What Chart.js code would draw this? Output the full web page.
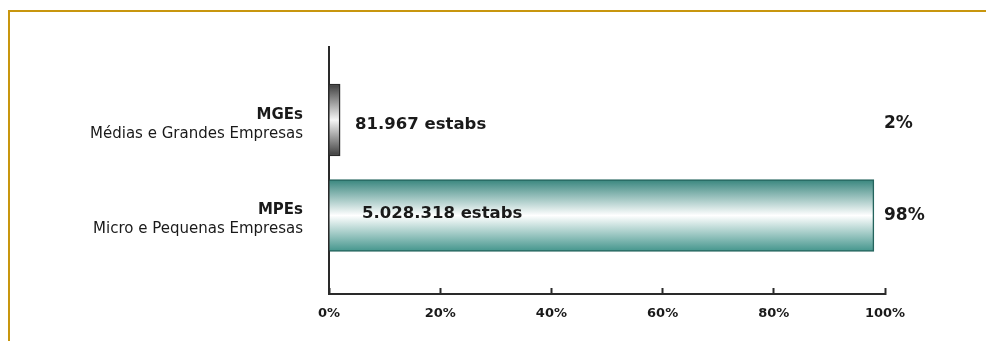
<!DOCTYPE html>
<html lang="pt-BR">
<head>
    <meta charset="UTF-8">
    <title>MPEs x MGEs</title>
    <script src="https://cdn.jsdelivr.net/npm/chart.js"></script>
    <style>
        html, body {
            margin: 0;
            padding: 0;
            background: #fff;
        }

        #frame {
            position: absolute;
            left: 8px;
            top: 10px;
            right: 0;
            bottom: 0;
            border-top: 2px solid #c8960e;
            border-left: 2px solid #c8960e;
        }

        #chart-box {
            position: absolute;
            left: 0;
            top: 0;
            width: 986px;
            height: 341px;
        }
    </style>
</head>
<body>
    <div id="frame"></div>
    <div id="chart-box">
        <canvas id="porte-chart"></canvas>
    </div>

    <script>
        // dados
        const siglas = ['MGEs', 'MPEs'];
        const nomes = ['Médias e Grandes Empresas', 'Micro e Pequenas Empresas'];
        const estabs = ['81.967 estabs', '5.028.318 estabs'];
        const percentuais = [2, 98];
        const posicoes = [1, 0];   // MGEs em cima, MPEs embaixo
        const xTicks = [0, 20, 40, 60, 80, 100];

        const fonte = '"DejaVu Sans", sans-serif';

        // gradiente vertical (borda escura, centro claro)
        function gradiente(ctx, i, cores) {
            const chart = ctx.chart;
            const y = chart.scales.y;
            if (!y || !chart.chartArea) return cores[0];
            const c = y.getPixelForValue(posicoes[i]);
            const g = chart.ctx.createLinearGradient(0, c - 36, 0, c + 36);
            g.addColorStop(0, cores[0]);
            g.addColorStop(0.5, cores[1]);
            g.addColorStop(1, cores[2]);
            return g;
        }

        // rótulos das categorias, valores e percentuais
        const rotulos = {
            id: 'rotulos',
            afterDatasetsDraw(chart) {
                const ctx = chart.ctx;
                const y = chart.scales.y;
                const x = chart.scales.x;
                ctx.save();
                ctx.fillStyle = '#1a1a1a';
                siglas.forEach((s, i) => {
                    const cy = y.getPixelForValue(posicoes[i]);
                    ctx.textAlign = 'right';
                    ctx.textBaseline = 'middle';
                    ctx.font = 'bold 15px ' + fonte;
                    ctx.fillText(s, 303, cy - 5);
                    ctx.font = '15px ' + fonte;
                    ctx.fillText(nomes[i], 303, cy + 14);

                    ctx.textAlign = 'left';
                    ctx.font = 'bold 16.5px ' + fonte;
                    const vx = i === 0 ? x.getPixelForValue(percentuais[i]) + 15 : x.getPixelForValue(0) + 33;
                    ctx.fillText(estabs[i], vx, cy + (i === 0 ? 5 : -2));
                    ctx.font = 'bold 17px ' + fonte;
                    ctx.fillText(percentuais[i] + '%', x.getPixelForValue(100) - 1, cy + (i === 0 ? 4 : 0));
                });
                ctx.restore();
            }
        };

        const data = {
            datasets: [{
                data: percentuais.map((p, i) => ({ x: p, y: posicoes[i] })),
                backgroundColor: (ctx) => ctx.dataIndex === 0
                    ? gradiente(ctx, 0, ['#3c3c3c', '#f6f6f6', '#3c3c3c'])
                    : gradiente(ctx, 1, ['#37857d', '#ffffff', '#43958c']),
                borderColor: (ctx) => ctx.dataIndex === 0 ? '#2a2a2a' : '#24645d',
                borderWidth: 1.5,
                borderSkipped: 'left',
                barThickness: 72
            }]
        };

        const config = {
            type: 'bar',
            data: data,
            plugins: [rotulos],
            options: {
                indexAxis: 'y',
                responsive: true,
                maintainAspectRatio: false,
                animation: false,
                layout: {
                    padding: { left: 0, right: 101, top: 47, bottom: 0 }
                },
                scales: {
                    x: {
                        type: 'linear',
                        min: 0,
                        max: 100,
                        afterBuildTicks: (axis) => {
                            axis.ticks = xTicks.map(v => ({ value: v }));
                        },
                        afterFit: (axis) => { axis.height = 47; },
                        border: { color: '#2a2a2a', width: 2 },
                        grid: {
                            drawOnChartArea: false,
                            tickLength: -6,
                            tickWidth: 2,
                            tickColor: '#2a2a2a'
                        },
                        ticks: {
                            padding: 18,
                            color: '#1a1a1a',
                            font: { family: fonte, size: 13, weight: 'bold' },
                            callback: (v) => v + '%'
                        }
                    },
                    y: {
                        type: 'linear',
                        offset: false,
                        min: -0.822,
                        max: 1.764,
                        afterFit: (axis) => { axis.width = 329; },
                        border: { color: '#2a2a2a', width: 2 },
                        grid: { display: false },
                        ticks: { display: false }
                    }
                },
                plugins: {
                    legend: { display: false },
                    tooltip: { enabled: false }
                }
            }
        };

        const grafico = new Chart(document.getElementById('porte-chart'), config);
    </script>
</body>
</html>
